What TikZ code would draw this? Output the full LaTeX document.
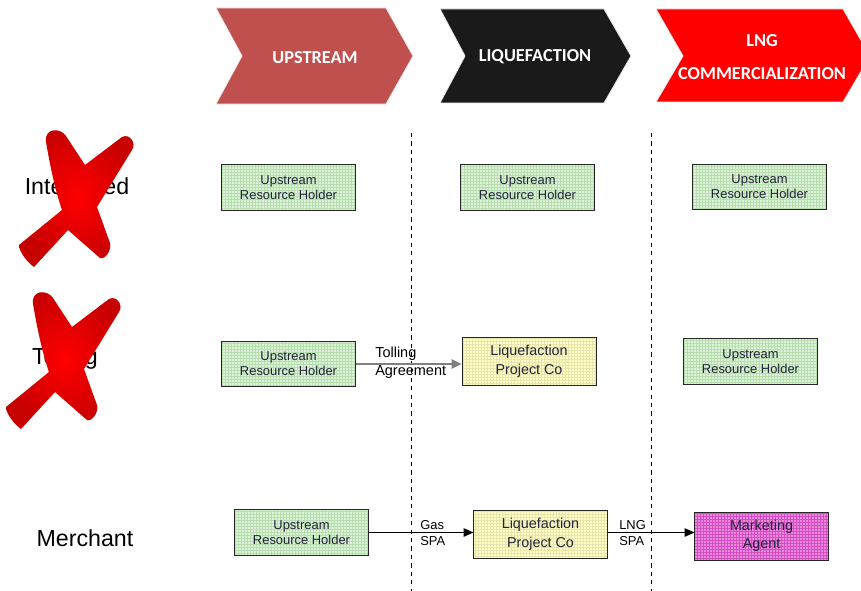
\documentclass[tikz,border=0pt]{standalone}
\usepackage{fontspec}
\setmainfont{Liberation Sans}
\newfontfamily\headfont{Carlito}
\usetikzlibrary{arrows.meta,positioning}
\definecolor{upred}{HTML}{C0504D}
\definecolor{liqblack}{HTML}{1A1A1A}
\definecolor{lngred}{HTML}{FF0000}
\definecolor{boxgreen}{HTML}{DDF2D8}
\definecolor{boxgreenline}{HTML}{B6DEAE}
\definecolor{boxyellow}{HTML}{FFFFC4}
\definecolor{boxyellowline}{HTML}{E8E4AE}
\definecolor{boxpink}{HTML}{E98ADC}
\definecolor{boxpinkline}{HTML}{D24EC2}
\definecolor{boxtext}{HTML}{23233A}
\tikzset{
	chevron/.style={fill=#1, draw=black!8, line width=0.6pt},
	headtext/.style={text=white, font=\headfont\bfseries\fontsize{13}{23}\selectfont, align=center},
	rowlabel/.style={font=\fontsize{16.5}{20}\selectfont},
	gridbox/.style 2 args={
			draw=black!85, fill=#1, line width=0.6pt, text=boxtext, align=center,
			minimum width=3.33cm, minimum height=1.13cm, inner sep=0pt,
			font=\fontsize{9.2}{10.6}\selectfont,
			path picture={\draw[#2, line width=0.25pt] (path picture bounding box.south west) grid[step=0.075cm] (path picture bounding box.north east);}
		},
	flowlabel/.style={anchor=west, align=left, inner sep=0pt, font=\fontsize{9.2}{11.5}\selectfont},
	redcross/.pic={
			\shade[inner color=red, outer color=red!78!black]
			(46,142) .. controls (44,128) and (60,127) .. (66,136) -- (85,165)
			-- (122,137) .. controls (129,133) and (137,143) .. (132,150)
			-- (97,207) -- (110,243) .. controls (112,250) and (105,260) .. (100,258)
			-- (68,230) -- (34,267) .. controls (28,263) and (19,252) .. (19,245)
			-- (62,210) .. controls (55,190) and (50,165) .. cycle;
		}
}

\begin{document}
\begin{tikzpicture}[x=0.025cm, y=-0.025cm]
	\clip (0,0) rectangle (861,591);
	\fill[white] (0,0) rectangle (861,591);

	% value chain heading
	\draw[chevron=upred] (216,8) -- (386,8) -- (413,56) -- (386,104) -- (216,104) -- (242,56) -- cycle;
	\draw[chevron=liqblack] (440,9) -- (604,9) -- (631,56) -- (604,103) -- (440,103) -- (465,56) -- cycle;
	\draw[chevron=lngred] (656,9) -- (843,9) -- (870,56) -- (843,102) -- (656,102) -- (683,56) -- cycle;
	\node[headtext] (upstream) at (315,58) {UPSTREAM};
	\node[headtext] (liquefaction) at (535,57) {LIQUEFACTION};
	\node[headtext] (lngcomm) at (762,57) {LNG\\COMMERCIALIZATION};

	% separators
	\coordinate (sepa top) at (411,133);
	\coordinate (sepa bot) at (411,591);
	\coordinate (sepb top) at (651,133);
	\coordinate (sepb bot) at (651,591);
	\draw[dashed, line width=0.6pt] (sepa top) -- (sepa bot);
	\draw[dashed, line width=0.6pt] (sepb top) -- (sepb bot);

	% row labels
	\node[rowlabel] (integrated) at (77,189) {Integrated};
	\node[rowlabel] (tolling) at (65,358) {Tolling};
	\node[rowlabel] (merchant) at (85,538) {Merchant};

	% integrated
	\node[gridbox={boxgreen}{boxgreenline}] (intup) at (288.5,187.5) {Upstream\\Resource Holder};
	\node[gridbox={boxgreen}{boxgreenline}] (intliq) at (527.5,187.5) {Upstream\\Resource Holder};
	\node[gridbox={boxgreen}{boxgreenline}] (intlng) at (759.5,187) {Upstream\\Resource Holder};

	% tolling
	\node[gridbox={boxgreen}{boxgreenline}] (tolup) at (288.5,364) {Upstream\\Resource Holder};
	\node[gridbox={boxyellow}{boxyellowline}, minimum width=3.35cm, minimum height=1.2cm,
		font=\fontsize{10.2}{13.5}\selectfont] (tolliq) at (529,361) {Liquefaction\\Project Co};
	\node[gridbox={boxgreen}{boxgreenline}] (tollng) at (750.5,361.5) {Upstream\\Resource Holder};
	\draw[black!50, line width=1.4pt, -{Triangle[length=7pt,width=6.5pt]}] (tolup.east) -- (tolup.east -| tolliq.west);
	\node[flowlabel, font=\fontsize{10.3}{13}\selectfont] (tolagr) at (375,363) {Tolling\\Agreement};

	% merchant
	\node[gridbox={boxgreen}{boxgreenline}] (merup) at (301.5,532.5) {Upstream\\Resource Holder};
	\node[gridbox={boxyellow}{boxyellowline}, minimum height=1.2cm,
		font=\fontsize{10.2}{13.5}\selectfont] (merliq) at (540.5,534) {Liquefaction\\Project Co};
	\node[gridbox={boxpink}{boxpinkline}, minimum height=1.2cm,
		font=\fontsize{10.2}{12.8}\selectfont] (meragent) at (761.5,536) {Marketing\\Agent};
	\draw[line width=0.9pt, -{Triangle[length=7pt,width=6pt]}] (merup.east) -- (merup.east -| merliq.west);
	\draw[line width=0.9pt, -{Triangle[length=7pt,width=6pt]}] (merliq.east |- merup.east) -- (merup.east -| meragent.west);
	\node[flowlabel] (gasspa) at (420,533) {Gas\\SPA};
	\node[flowlabel] (lngspa) at (619,533) {LNG\\SPA};

	% crossed out options
	\pic at (0,0) {redcross};
	\pic at (-13,162) {redcross};
\end{tikzpicture}
\end{document}
